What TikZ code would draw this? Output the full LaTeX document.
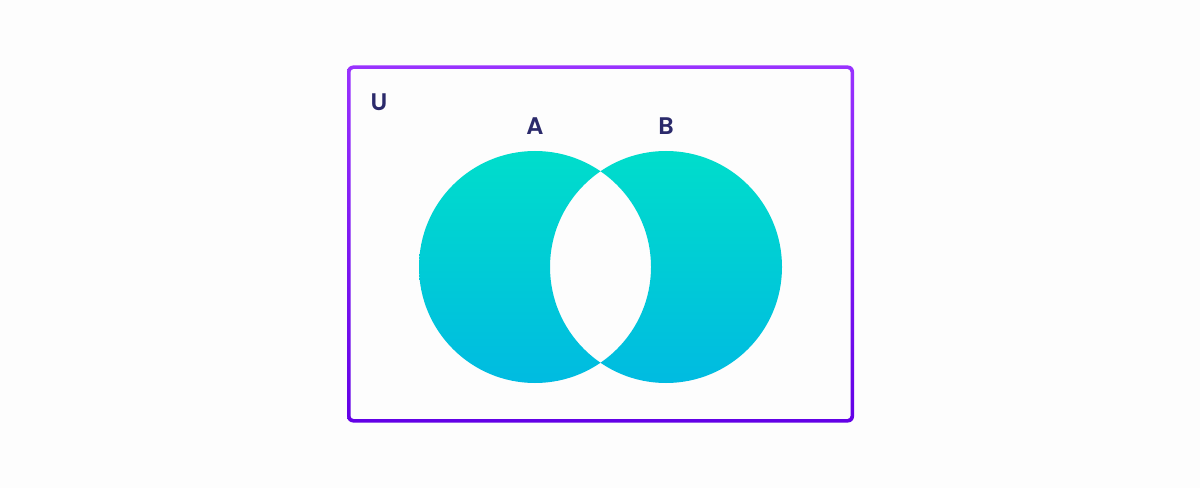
\documentclass[tikz,border=0pt]{standalone}
\usepackage{fontspec}
\usepackage{tikz}
\usepackage{xcolor}
\usetikzlibrary{positioning}
\newfontfamily\vnfont{Poppins SemiBold}
\definecolor{vnteal}{HTML}{00DDCB}
\definecolor{vnsky}{HTML}{00BBE1}
\definecolor{vnviolet}{HTML}{9A33FF}
\definecolor{vnindigo}{HTML}{6200E6}
\definecolor{vnink}{HTML}{2B2A6B}
\definecolor{vnpaper}{HTML}{FDFDFD}
\tikzset{
  setLabel/.style={font=\vnfont\fontsize{24}{24}\selectfont, text=vnink, inner sep=0pt},
  setFill/.style={top color=vnteal, bottom color=vnsky, even odd rule},
  frameFill/.style={top color=vnviolet, bottom color=vnindigo}
}
\begin{document}
\begin{tikzpicture}[x=1pt,y=1pt]
  \fill[vnpaper] (0,0) rectangle (1200,488);
  \useasboundingbox (0,0) rectangle (1200,488);
  % universe frame
  \begin{scope}[even odd rule]
    \clip (347,65.5) [rounded corners=6pt] rectangle (854,422.5)
      (350.5,69) [rounded corners=3pt] rectangle (850.5,419);
    \shade[frameFill] (340,60) rectangle (860,430);
  \end{scope}
  % A and B, lens left out
  \coordinate (cA) at (535,221);
  \coordinate (cB) at (666,221);
  \shade[setFill] (cA) circle (116) (cB) circle (116);
  \node[setLabel] (labU) at (379,386) {U};
  \node[setLabel] (labA) at (535,362) {A};
  \node[setLabel] (labB) at (666,362) {B};
\end{tikzpicture}
\end{document}
